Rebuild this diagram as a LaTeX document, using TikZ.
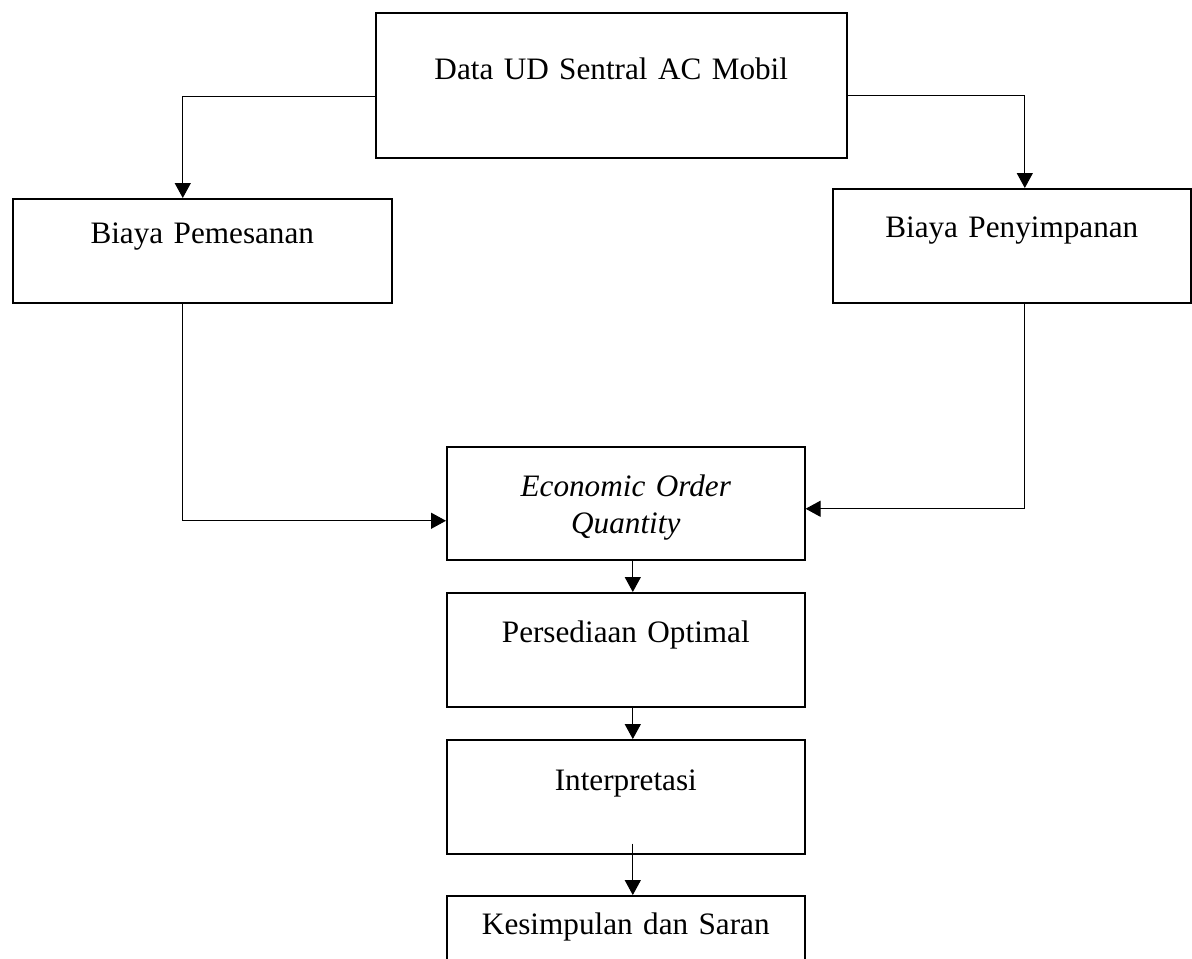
\documentclass[tikz,border=0pt]{standalone}
\usepackage{fontspec}
\setmainfont{Liberation Serif}
\usetikzlibrary{arrows.meta, positioning, calc}

\begin{document}
\begin{tikzpicture}[
    x=0.375pt, y=-0.375pt,
    box/.style={rectangle, draw, line width=0.6pt, inner sep=0pt, align=center, font=\fontsize{11.7}{13.9}\selectfont, anchor=north west},
    arrow/.style={-{Triangle[length=5.6pt, width=6pt]}, line width=0.4pt},
    node distance=11.8pt
]
    \useasboundingbox (0,0) rectangle (1192,959);

    \node[box, text width=176.6pt, text height=25.1pt, text depth=29.25pt] (data) at (375,12) {Data UD Sentral AC Mobil};
    \node[box, text width=142.1pt, text height=16.9pt, text depth=22.1pt] (pemesanan) at (12,198) {Biaya Pemesanan};
    \node[box, text width=134.25pt, text height=18.4pt, text depth=24.4pt] (penyimpanan) at (832,188) {Biaya Penyimpanan};
    \node[box, text width=134.25pt, text height=18.75pt, text depth=23.6pt] (eoq) at (446,446) {\textit{Economic Order}\\\textit{Quantity}};
    \node[box, text width=134.25pt, text height=18.75pt, text depth=24pt, below=of eoq] (optimal) {Persediaan Optimal};
    \node[box, text width=134.25pt, text height=19.1pt, text depth=23.6pt, below=of optimal] (interp) {Interpretasi};
    \node[box, text width=134.25pt, text height=14.6pt, text depth=28.1pt, below=15.2pt of interp] (saran) {Kesimpulan dan Saran};

    \draw[arrow] ($(data.west)+(0,11.5)$) -| ($(pemesanan.north)+(-19.5,0)$);
    \draw[arrow] ($(data.east)+(0,10.5)$) -| ($(penyimpanan.north)+(13,0)$);
    \draw[arrow] ($(pemesanan.south)+(-19.5,0)$) |- ($(eoq.west)+(0,17.5)$);
    \draw[arrow] ($(penyimpanan.south)+(13,0)$) |- ($(eoq.east)+(0,5.5)$);
    \draw[arrow] ($(eoq.south)+(7,0)$) -- ($(optimal.north)+(7,0)$);
    \draw[arrow] ($(optimal.south)+(7,0)$) -- ($(interp.north)+(7,0)$);
    \draw[arrow] ($(interp.south)+(7,-11)$) -- ($(saran.north)+(7,0)$);
\end{tikzpicture}
\end{document}
